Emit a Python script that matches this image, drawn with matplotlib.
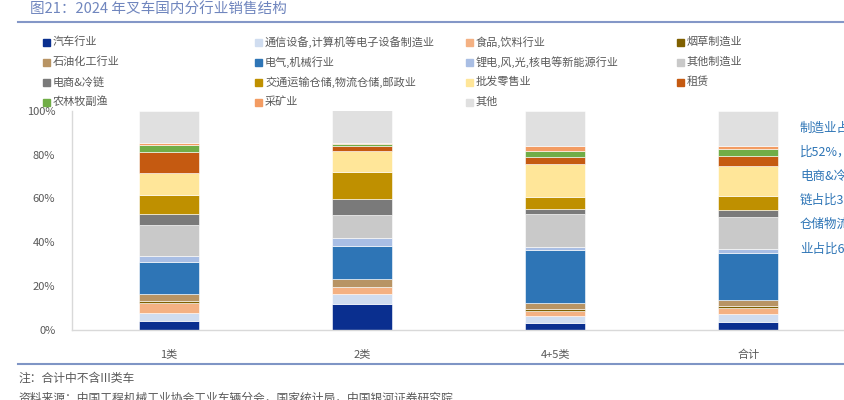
import numpy as np
import matplotlib
matplotlib.use("Agg")
import matplotlib.pyplot as plt
from matplotlib.patches import Rectangle
from matplotlib.lines import Line2D

plt.rcParams['font.family'] = ['Noto Sans CJK SC', 'DejaVu Sans']

categories = ['1类', '2类', '4+5类', '合计']

series_names = ['汽车行业', '通信设备,计算机等电子设备制造业', '食品,饮料行业', '烟草制造业',
                '石油化工行业', '电气,机械行业', '锂电,风,光,核电等新能源行业', '其他制造业',
                '电商&冷链', '交通运输仓储,物流仓储,邮政业', '批发零售业', '租赁',
                '农林牧副渔', '采矿业', '其他']

series_colors = ['#0A2F8F', '#D0DDF0', '#F4B183', '#7F6000',
                 '#B89464', '#2E75B6', '#A9BEE4', '#C9C9C9',
                 '#7A7A7A', '#BF9000', '#FFE699', '#C55A11',
                 '#70AD47', '#F39C63', '#E0E0E0']

# share in %, one list per series, order follows categories
auto = [4.1, 11.9, 3.3, 3.8]
telecom = [3.5, 4.7, 3.0, 3.3]
food = [4.7, 3.2, 2.4, 2.9]
tobacco = [0.8, 0.0, 0.9, 0.9]
petro = [3.3, 3.5, 2.7, 2.7]
machinery = [14.7, 15.2, 24.0, 21.4]
new_energy = [2.7, 3.3, 1.5, 1.8]
other_mfg = [14.0, 10.5, 14.9, 14.7]
ecommerce = [5.3, 7.3, 2.6, 3.3]
logistics = [8.4, 12.5, 5.3, 6.2]
retail = [10.2, 9.6, 15.2, 13.8]
rental = [9.6, 2.4, 3.0, 4.7]
agri = [3.2, 0.8, 3.0, 2.9]
mining = [0.9, 0.3, 2.0, 1.7]
others = [14.6, 14.9, 16.0, 15.7]

series_values = [auto, telecom, food, tobacco, petro, machinery, new_energy, other_mfg,
                 ecommerce, logistics, retail, rental, agri, mining, others]

note_lines = ['制造业占', '比52%，', '电商&冷', '链占比3%，', '仓储物流', '业占比6%']

W, H = 845, 400
fig = plt.figure(figsize=(W / 100, H / 100), dpi=100)


def fx(px):
    return px / W


def fy(py):
    return 1 - py / H


ax = fig.add_axes([fx(72), fy(330), fx(845) - fx(72), fy(110.7) - fy(330)])

x = np.arange(len(categories))
bottom = np.zeros(len(categories))
for name, color, vals in zip(series_names, series_colors, series_values):
    vals = np.array(vals)
    ax.bar(x, vals, width=0.31, bottom=bottom, color=color, label=name,
           edgecolor='white', linewidth=0.4)
    bottom += vals

ax.set_xlim(-0.5, 3.5)
ax.set_ylim(0, 100)
ax.set_yticks(np.arange(0, 101, 20))
ax.set_yticklabels([f'{v}%' for v in range(0, 101, 20)])
ax.set_xticks(x)
ax.set_xticklabels(categories)
ax.tick_params(axis='both', length=0, labelsize=8, colors='#595959')
ax.tick_params(axis='x', pad=14)
ax.tick_params(axis='y', pad=12)
for s in ['top', 'right']:
    ax.spines[s].set_visible(False)
for s in ['left', 'bottom']:
    ax.spines[s].set_color('#D9D9D9')
    ax.spines[s].set_linewidth(1.0)

# legend laid out row by row like the source
col_x = [43, 255, 466, 677]
row_y = [42, 62, 82, 102]
for i, (name, color) in enumerate(zip(series_names, series_colors)):
    r, c = divmod(i, 4)
    fig.patches.append(Rectangle((fx(col_x[c]), fy(row_y[r] + 3.5)), fx(7), 7 / H,
                                 transform=fig.transFigure, color=color))
    fig.text(fx(col_x[c] + 10), fy(row_y[r]), name, fontsize=8, color='#595959',
             va='center', ha='left')

# side note
for j, line in enumerate(note_lines):
    fig.text(fx(800), fy(128 + 24.2 * j), line, fontsize=9, color='#2E75B6',
             va='center', ha='left')

# title and rules
fig.text(fx(30), fy(10), '图21：2024 年叉车国内分行业销售结构', fontsize=10.5,
         color='#7086BE', va='center', ha='left')
fig.add_artist(Line2D([fx(18), 1], [fy(21.5), fy(21.5)], color='#8497C7', lw=1.5,
                      transform=fig.transFigure))
fig.add_artist(Line2D([fx(18), 1], [fy(364), fy(364)], color='#7F95C5', lw=1.5,
                      transform=fig.transFigure))

fig.text(fx(18), fy(378), '注：合计中不含III类车', fontsize=8.5, color='#595959',
         va='center', ha='left', style='italic')
fig.text(fx(18), fy(398), '资料来源：中国工程机械工业协会工业车辆分会，国家统计局，中国银河证券研究院',
         fontsize=8.5, color='#595959', va='center', ha='left', style='italic')

fig.savefig('out.png', dpi=100)
